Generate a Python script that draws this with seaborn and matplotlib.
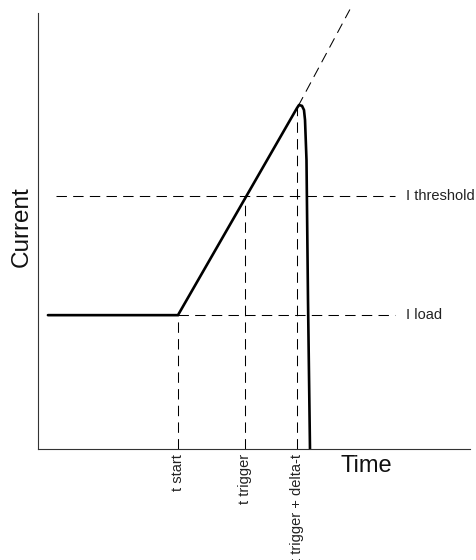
import matplotlib
matplotlib.use("Agg")
import matplotlib.pyplot as plt
import seaborn as sns
import pandas as pd

# ---- data (arbitrary schematic units: time 0-100, current 0-100) ----
current_time = [2.3, 32.4, 59.95, 60.42, 61.11, 61.57, 61.81, 62.15, 62.5, 62.96]
current_vals = [30.7, 30.7, 78.2, 78.9, 78.7, 77.75, 75.46, 66.3, 34.2, 0.0]

extension_time = [60.2, 72.2]
extension_vals = [78.6, 100.8]

i_load = 30.7
i_threshold = 58.0
t_start = 32.4
t_trigger = 47.9
t_trigger_delta = 59.95

hline_start_load = 32.4
hline_start_threshold = 4.2
hline_end = 82.6

time_labels = ["t start", "t trigger", "t trigger + delta-t"]
time_marks = [t_start, t_trigger, t_trigger_delta]
time_tops = [i_load, i_threshold, 78.2]
level_labels = ["I threshold", "I load"]
level_vals = [i_threshold, i_load]

sns.set_style("white")
plt.rcParams["font.family"] = ["Liberation Sans", "DejaVu Sans"]

fig = plt.figure(figsize=(4.77, 5.6), dpi=100)
ax = fig.add_axes([38 / 477, 111 / 560, 432 / 477, 436 / 560])

dash = (0, (10, 6))
dash_kw = dict(color="black", lw=0.75, linestyle=dash)

# horizontal reference lines
ax.plot([hline_start_threshold, hline_end], [i_threshold, i_threshold], **dash_kw)
ax.plot([hline_start_load, hline_end], [i_load, i_load], **dash_kw)

# vertical reference lines
for t, top in zip(time_marks, time_tops):
    ax.plot([t, t], [0, top], **dash_kw)

# dashed extension of the ramp
ext = pd.DataFrame({"t": extension_time, "I": extension_vals})
sns.lineplot(data=ext, x="t", y="I", ax=ax, color="black", lw=0.75, sort=False)
ax.lines[-1].set_linestyle(dash)
ax.lines[-1].set_clip_on(False)

# main current curve
df = pd.DataFrame({"t": current_time, "I": current_vals})
sns.lineplot(data=df, x="t", y="I", ax=ax, color="black", lw=1.9, sort=False)
ax.lines[-1].set_solid_joinstyle("round")

ax.set_xlim(0, 100)
ax.set_ylim(0, 100)
ax.set_xticks([])
ax.set_yticks([])
ax.set_xlabel("")
ax.set_ylabel("")
sns.despine(ax=ax)
for s in ("left", "bottom"):
    ax.spines[s].set_color("#333333")
    ax.spines[s].set_linewidth(0.8)

# labels
for lab, v in zip(level_labels, level_vals):
    ax.text(85.2, v, lab, ha="left", va="center", fontsize=10.5, color="#222222")
for lab, t in zip(time_labels, time_marks):
    ax.text(t, -1.2, lab, rotation=90, ha="center", va="top", fontsize=10.5,
            color="#222222", clip_on=False)

ax.text(-0.037, 0.511, "Current", rotation=90, transform=ax.transAxes,
        ha="center", va="center", fontsize=17.5, color="#111111")
ax.text(0.759, -0.039, "Time", transform=ax.transAxes,
        ha="center", va="center", fontsize=17, color="#111111")

fig.savefig("out.png", dpi=100)
